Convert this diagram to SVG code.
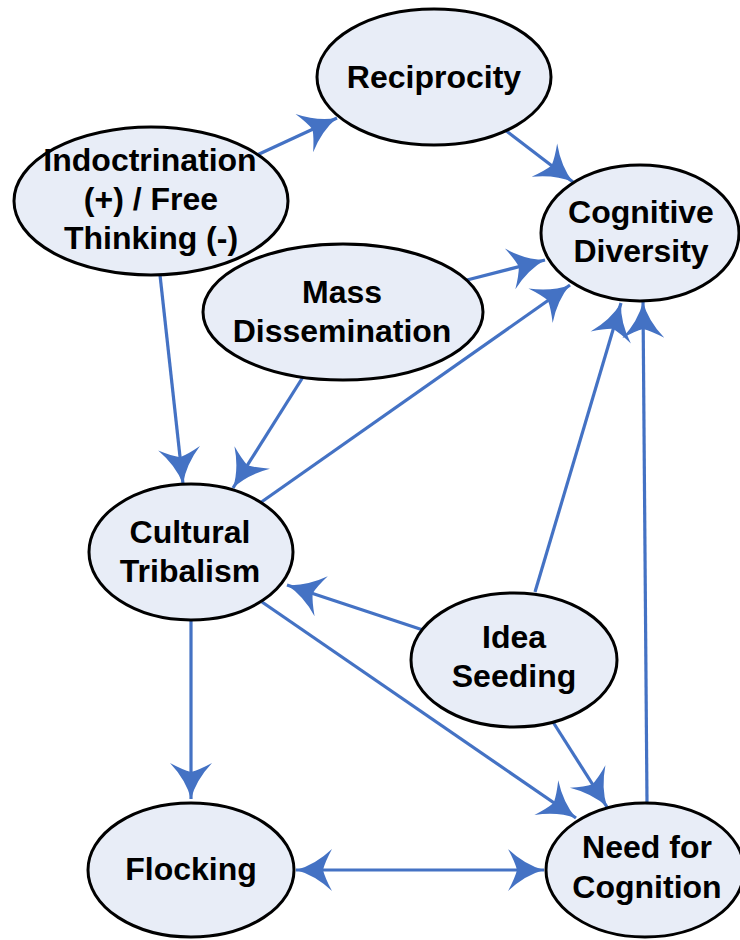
<svg xmlns="http://www.w3.org/2000/svg" width="740" height="940" viewBox="0 0 740 940">
  <style>
    .node ellipse { fill: #E8EDF7; stroke: #000; stroke-width: 3; }
    .node text { font-family: "Liberation Sans", Arial, sans-serif; font-weight: bold; font-size: 32px; fill: #000; text-anchor: middle; }
    .edge { stroke: #4472C4; stroke-width: 3.2; fill: none; marker-end: url(#head); }
  </style>
  <defs>
    <marker id="head" markerUnits="userSpaceOnUse" viewBox="-38 -23 40 46" markerWidth="40" markerHeight="46" refX="0" refY="0" orient="auto-start-reverse">
      <path d="M0,0 Q-19,-5 -36,-21 Q-29,-8 -27,0 Q-29,8 -36,21 Q-19,5 0,0 Z" fill="#4472C4"/>
    </marker>
  </defs>

  <rect width="740" height="940" fill="#fff"/>

  <!-- connectors -->
  <g id="connectors">
    <line class="edge" x1="257" y1="155" x2="337" y2="118"/>
    <line class="edge" x1="505" y1="130" x2="573" y2="182"/>
    <line class="edge" x1="467" y1="280" x2="545" y2="260"/>
    <line class="edge" x1="260" y1="503" x2="570" y2="285"/>
    <line class="edge" x1="535" y1="592" x2="621" y2="303"/>
    <line class="edge" x1="647" y1="803" x2="643" y2="302"/>
    <line class="edge" x1="160" y1="275" x2="183" y2="484"/>
    <line class="edge" x1="303" y1="377" x2="233" y2="488"/>
    <line class="edge" x1="423" y1="630" x2="287" y2="585"/>
    <line class="edge" x1="262" y1="602" x2="576" y2="818"/>
    <line class="edge" x1="553" y1="722" x2="607" y2="807"/>
    <line class="edge" x1="191" y1="620" x2="191" y2="799"/>
    <line class="edge" x1="296" y1="870" x2="544" y2="870" marker-start="url(#head)"/>
  </g>

  <!-- nodes -->
  <g id="reciprocity" class="node">
    <ellipse cx="434" cy="77" rx="117" ry="68"/>
    <text x="434" y="88">Reciprocity</text>
  </g>
  <g id="indoctrination" class="node">
    <ellipse cx="151" cy="201" rx="137" ry="74"/>
    <text x="150" y="171">Indoctrination</text>
    <text x="151" y="210">(+) / Free</text>
    <text x="151" y="249">Thinking (-)</text>
  </g>
  <g id="cognitive-diversity" class="node">
    <ellipse cx="640" cy="233" rx="99" ry="68"/>
    <text x="641" y="223">Cognitive</text>
    <text x="641" y="262">Diversity</text>
  </g>
  <g id="mass-dissemination" class="node">
    <ellipse cx="343" cy="312" rx="140" ry="68"/>
    <text x="342" y="303">Mass</text>
    <text x="342" y="342">Dissemination</text>
  </g>
  <g id="cultural-tribalism" class="node">
    <ellipse cx="191" cy="552" rx="102" ry="68"/>
    <text x="190" y="543">Cultural</text>
    <text x="190" y="582">Tribalism</text>
  </g>
  <g id="idea-seeding" class="node">
    <ellipse cx="514" cy="660" rx="103" ry="67"/>
    <text x="514" y="648">Idea</text>
    <text x="514" y="687">Seeding</text>
  </g>
  <g id="flocking" class="node">
    <ellipse cx="191" cy="870" rx="103" ry="67"/>
    <text x="191" y="880">Flocking</text>
  </g>
  <g id="need-for-cognition" class="node">
    <ellipse cx="645" cy="870" rx="99" ry="67"/>
    <text x="647" y="858">Need for</text>
    <text x="647" y="898">Cognition</text>
  </g>
</svg>
